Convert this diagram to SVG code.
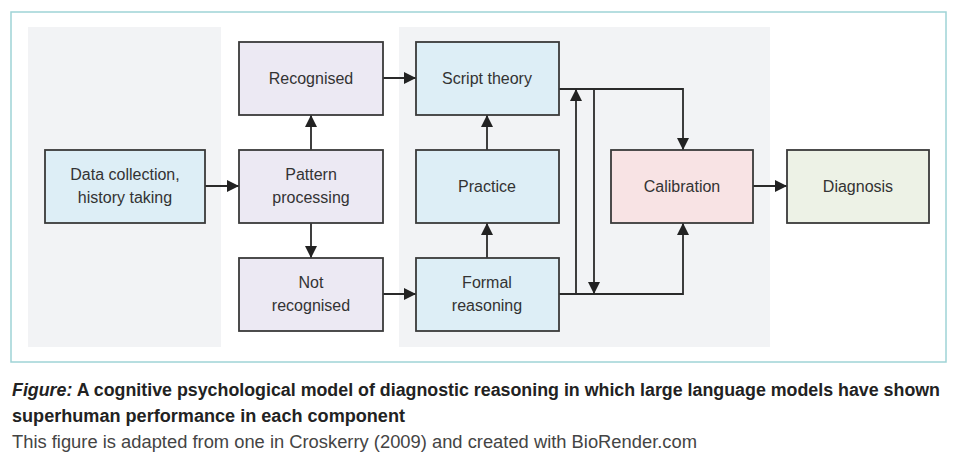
<svg xmlns="http://www.w3.org/2000/svg" width="960" height="466" viewBox="0 0 960 466">
<defs>
<marker id="ah" viewBox="0 0 12 12" refX="12" refY="6" markerWidth="12" markerHeight="12" markerUnits="userSpaceOnUse" orient="auto">
<path d="M0,0 L12,6 L0,12 Z" fill="#222"/>
</marker>
<style>
.box{stroke:#3a3a3a;stroke-width:1.8}
.lav{fill:#ece9f3}
.blue{fill:#ddeef6}
.pink{fill:#f8e3e4}
.green{fill:#edf2e6}
.panel{fill:#f2f3f5}
.lbl{font-family:"Liberation Sans","Open Sans",Arial,sans-serif;font-size:16px;fill:#333;text-anchor:middle}
.con{fill:none;stroke:#2a2a2a;stroke-width:1.8}
.cap{font-family:"Liberation Sans","Open Sans",Arial,sans-serif;font-size:17.5px;fill:#222}
</style>
</defs>
<rect x="0" y="0" width="960" height="466" fill="#ffffff"/>
<rect x="11" y="12" width="935" height="350" fill="#ffffff" stroke="#9fd3d6" stroke-width="1.5"/>
<rect class="panel" x="28" y="27" width="193" height="320"/>
<rect class="panel" x="399" y="27" width="371" height="320"/>

<g id="connectors">
<path class="con" d="M205,186 H239" marker-end="url(#ah)"/>
<path class="con" d="M311,150 V115" marker-end="url(#ah)"/>
<path class="con" d="M311,223 V258" marker-end="url(#ah)"/>
<path class="con" d="M383,78 H416" marker-end="url(#ah)"/>
<path class="con" d="M383,294 H416" marker-end="url(#ah)"/>
<path class="con" d="M487,258 V223" marker-end="url(#ah)"/>
<path class="con" d="M487,150 V115" marker-end="url(#ah)"/>
<path class="con" d="M559,89 H683 V150" marker-end="url(#ah)"/>
<path class="con" d="M559,294 H683 V223" marker-end="url(#ah)"/>
<path class="con" d="M576,294 V89" marker-end="url(#ah)"/>
<path class="con" d="M594,89 V294" marker-end="url(#ah)"/>
<path class="con" d="M753,186 H787" marker-end="url(#ah)"/>
</g>

<g id="data-collection">
<rect class="box blue" x="45" y="150" width="160" height="73"/>
<text class="lbl" x="125" y="180">Data collection,</text>
<text class="lbl" x="125" y="203">history taking</text>
</g>
<g id="recognised">
<rect class="box lav" x="239" y="42" width="144" height="73"/>
<text class="lbl" x="311" y="84">Recognised</text>
</g>
<g id="pattern-processing">
<rect class="box lav" x="239" y="150" width="144" height="73"/>
<text class="lbl" x="311" y="180">Pattern</text>
<text class="lbl" x="311" y="203">processing</text>
</g>
<g id="not-recognised">
<rect class="box lav" x="239" y="258" width="144" height="73"/>
<text class="lbl" x="311" y="288">Not</text>
<text class="lbl" x="311" y="311">recognised</text>
</g>
<g id="script-theory">
<rect class="box blue" x="416" y="42" width="143" height="73"/>
<text class="lbl" x="487" y="84">Script theory</text>
</g>
<g id="practice">
<rect class="box blue" x="416" y="150" width="143" height="73"/>
<text class="lbl" x="487" y="192">Practice</text>
</g>
<g id="formal-reasoning">
<rect class="box blue" x="416" y="258" width="143" height="73"/>
<text class="lbl" x="487" y="288">Formal</text>
<text class="lbl" x="487" y="311">reasoning</text>
</g>
<g id="calibration">
<rect class="box pink" x="611" y="150" width="142" height="73"/>
<text class="lbl" x="682" y="192">Calibration</text>
</g>
<g id="diagnosis">
<rect class="box green" x="787" y="150" width="142" height="73"/>
<text class="lbl" x="858" y="192">Diagnosis</text>
</g>

<g id="caption">
<text class="cap" x="12" y="396" font-weight="bold" textLength="928" lengthAdjust="spacingAndGlyphs"><tspan font-style="italic">Figure:</tspan> A cognitive psychological model of diagnostic reasoning in which large language models have shown</text>
<text class="cap" x="12" y="422" font-weight="bold" textLength="393" lengthAdjust="spacingAndGlyphs">superhuman performance in each component</text>
<text class="cap" x="12" y="448" style="fill:#444" textLength="685" lengthAdjust="spacingAndGlyphs">This figure is adapted from one in Croskerry (2009) and created with BioRender.com</text>
</g>
</svg>
